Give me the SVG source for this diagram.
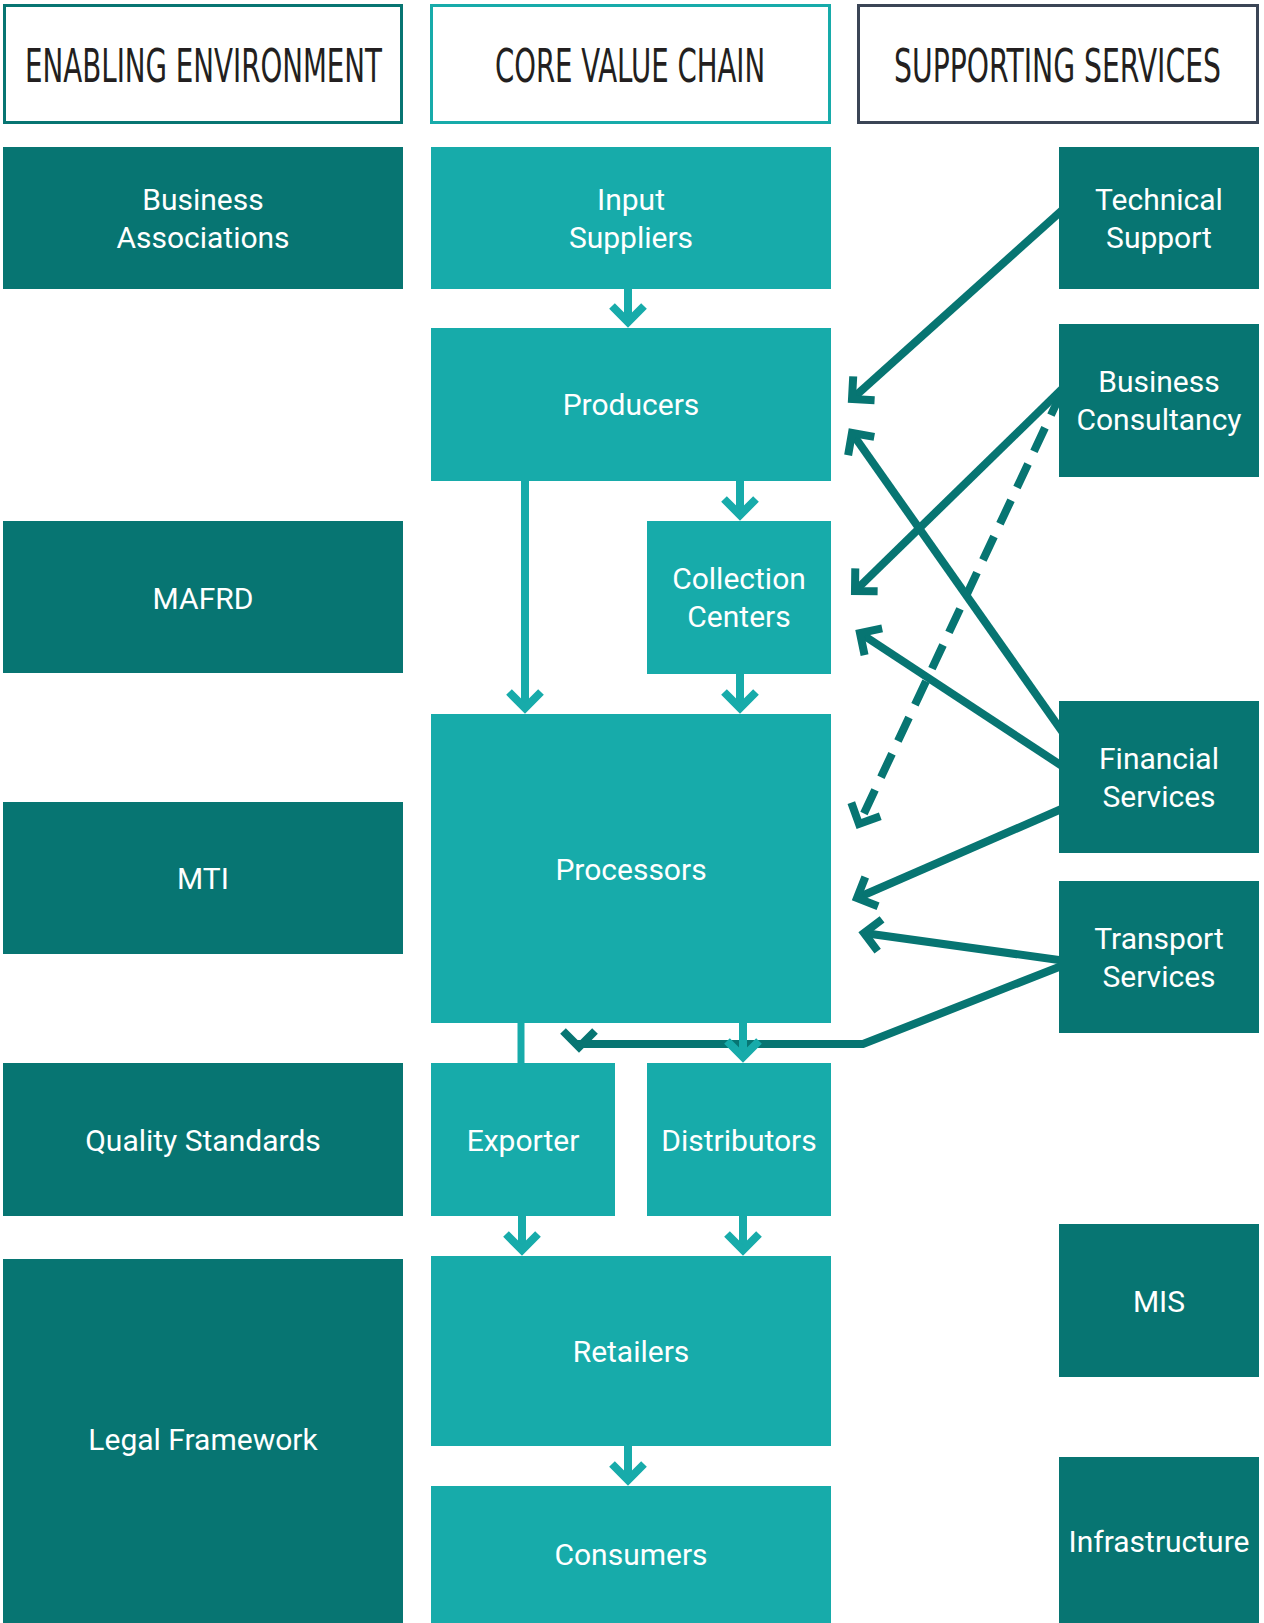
<svg xmlns="http://www.w3.org/2000/svg" width="1264" height="1623" viewBox="0 0 1264 1623">
  <style>
    .hdr { fill: #ffffff; stroke-width: 3; }
    .hdrtxt { font-family: "Liberation Sans Narrow", "DejaVu Sans Condensed", "Liberation Sans", sans-serif; font-size: 46px; fill: #231f20; text-anchor: middle; }
    .dk { fill: #077572; }
    .lt { fill: #17abaa; }
    .lbl { font-family: Roboto, "Noto Sans", "Liberation Sans", sans-serif; font-size: 30px; fill: #ffffff; text-anchor: middle; }
    .cl { fill: none; stroke: #17abaa; stroke-width: 8; stroke-linecap: butt; }
    .cd { fill: none; stroke: #077572; stroke-width: 8; stroke-linecap: butt; stroke-linejoin: miter; }
    .dash { stroke-dasharray: 26 14; }
  </style>
  <defs>
    <marker id="arrL" markerUnits="userSpaceOnUse" viewBox="-30 -30 40 60" markerWidth="40" markerHeight="60" refX="0" refY="0" orient="auto" overflow="visible">
      <path d="M-16,-16 L0,0 L-16,16" fill="none" stroke="#17abaa" stroke-width="8" stroke-linejoin="miter"/>
    </marker>
    <marker id="arrD" markerUnits="userSpaceOnUse" viewBox="-30 -30 40 60" markerWidth="40" markerHeight="60" refX="0" refY="0" orient="auto" overflow="visible">
      <path d="M-16,-16 L0,0 L-16,16" fill="none" stroke="#077572" stroke-width="8" stroke-linejoin="miter"/>
    </marker>
  </defs>
  <rect x="0" y="0" width="1264" height="1623" fill="#ffffff"/>

  <g id="connectors">
    <path class="cd" d="M1066,206.7 L852,399" marker-end="url(#arrD)"/>
    <path class="cd" d="M1066,385.2 L855,591" marker-end="url(#arrD)"/>
    <path class="cd dash" d="M1062,391.6 L859,824" marker-end="url(#arrD)"/>
    <path class="cd" d="M1066,737 L852,433" marker-end="url(#arrD)"/>
    <path class="cd" d="M1066,768.6 L860,633" marker-end="url(#arrD)"/>
    <path class="cd" d="M1066,807 L857,898" marker-end="url(#arrD)"/>
    <path class="cd" d="M1066,961 L864,933" marker-end="url(#arrD)"/>
    <path class="cd" d="M1066,964.2 L863,1044 L579,1044 L579,1047" marker-end="url(#arrD)"/>

    <path class="cl" d="M628,289 L628,322" marker-end="url(#arrL)"/>
    <path class="cl" d="M740,481 L740,515" marker-end="url(#arrL)"/>
    <path class="cl" d="M525,481 L525,708" marker-end="url(#arrL)"/>
    <path class="cl" d="M740,674 L740,708" marker-end="url(#arrL)"/>
    <path class="cl" d="M521,1023 L521,1063" style="stroke-width:7"/>
    <path class="cl" d="M743,1023 L743,1057" marker-end="url(#arrL)"/>
    <path class="cl" d="M522,1216 L522,1250" marker-end="url(#arrL)"/>
    <path class="cl" d="M743,1216 L743,1250" marker-end="url(#arrL)"/>
    <path class="cl" d="M628,1446 L628,1480" marker-end="url(#arrL)"/>
  </g>

  <g id="hdr-enabling">
    <rect class="hdr" x="4.5" y="5.5" width="397" height="117" stroke="#077572"/>
    <text class="hdrtxt" transform="translate(203.5,82) scale(0.7,1)" x="0" y="0" textLength="510" lengthAdjust="spacingAndGlyphs">ENABLING ENVIRONMENT</text>
  </g>
  <g id="hdr-core">
    <rect class="hdr" x="431.5" y="5.5" width="398" height="117" stroke="#17abaa"/>
    <text class="hdrtxt" transform="translate(630,82) scale(0.7,1)" x="0" y="0" textLength="386" lengthAdjust="spacingAndGlyphs">CORE VALUE CHAIN</text>
  </g>
  <g id="hdr-supporting">
    <rect class="hdr" x="858.5" y="5.5" width="399" height="117" stroke="#3b4556"/>
    <text class="hdrtxt" transform="translate(1057.5,82) scale(0.7,1)" x="0" y="0" textLength="467" lengthAdjust="spacingAndGlyphs">SUPPORTING SERVICES</text>
  </g>

  <g id="business-associations">
    <rect class="dk" x="3" y="147" width="400" height="142"/>
    <text class="lbl" x="203" y="209.5">Business</text>
    <text class="lbl" x="203" y="247.5">Associations</text>
  </g>
  <g id="mafrd">
    <rect class="dk" x="3" y="521" width="400" height="152"/>
    <text class="lbl" x="203" y="608.5">MAFRD</text>
  </g>
  <g id="mti">
    <rect class="dk" x="3" y="802" width="400" height="152"/>
    <text class="lbl" x="203" y="889">MTI</text>
  </g>
  <g id="quality-standards">
    <rect class="dk" x="3" y="1063" width="400" height="153"/>
    <text class="lbl" x="203" y="1151">Quality Standards</text>
  </g>
  <g id="legal-framework">
    <rect class="dk" x="3" y="1259" width="400" height="364"/>
    <text class="lbl" x="203" y="1450">Legal Framework</text>
  </g>

  <g id="input-suppliers">
    <rect class="lt" x="431" y="147" width="400" height="142"/>
    <text class="lbl" x="631" y="209.5">Input</text>
    <text class="lbl" x="631" y="247.5">Suppliers</text>
  </g>
  <g id="producers">
    <rect class="lt" x="431" y="328" width="400" height="153"/>
    <text class="lbl" x="631" y="415">Producers</text>
  </g>
  <g id="collection-centers">
    <rect class="lt" x="647" y="521" width="184" height="153"/>
    <text class="lbl" x="739" y="589">Collection</text>
    <text class="lbl" x="739" y="627">Centers</text>
  </g>
  <g id="processors">
    <rect class="lt" x="431" y="714" width="400" height="309"/>
    <text class="lbl" x="631" y="880">Processors</text>
  </g>
  <g id="exporter">
    <rect class="lt" x="431" y="1063" width="184" height="153"/>
    <text class="lbl" x="523" y="1151">Exporter</text>
  </g>
  <g id="distributors">
    <rect class="lt" x="647" y="1063" width="184" height="153"/>
    <text class="lbl" x="739" y="1151">Distributors</text>
  </g>
  <g id="retailers">
    <rect class="lt" x="431" y="1256" width="400" height="190"/>
    <text class="lbl" x="631" y="1362">Retailers</text>
  </g>
  <g id="consumers">
    <rect class="lt" x="431" y="1486" width="400" height="137"/>
    <text class="lbl" x="631" y="1565">Consumers</text>
  </g>

  <g id="technical-support">
    <rect class="dk" x="1059" y="147" width="200" height="142"/>
    <text class="lbl" x="1159" y="209.5">Technical</text>
    <text class="lbl" x="1159" y="247.5">Support</text>
  </g>
  <g id="business-consultancy">
    <rect class="dk" x="1059" y="324" width="200" height="153"/>
    <text class="lbl" x="1159" y="392">Business</text>
    <text class="lbl" x="1159" y="430">Consultancy</text>
  </g>
  <g id="financial-services">
    <rect class="dk" x="1059" y="701" width="200" height="152"/>
    <text class="lbl" x="1159" y="768.5">Financial</text>
    <text class="lbl" x="1159" y="806.5">Services</text>
  </g>
  <g id="transport-services">
    <rect class="dk" x="1059" y="881" width="200" height="152"/>
    <text class="lbl" x="1159" y="948.5">Transport</text>
    <text class="lbl" x="1159" y="986.5">Services</text>
  </g>
  <g id="mis">
    <rect class="dk" x="1059" y="1224" width="200" height="153"/>
    <text class="lbl" x="1159" y="1312">MIS</text>
  </g>
  <g id="infrastructure">
    <rect class="dk" x="1059" y="1457" width="200" height="166"/>
    <text class="lbl" x="1159" y="1552">Infrastructure</text>
  </g>
</svg>
